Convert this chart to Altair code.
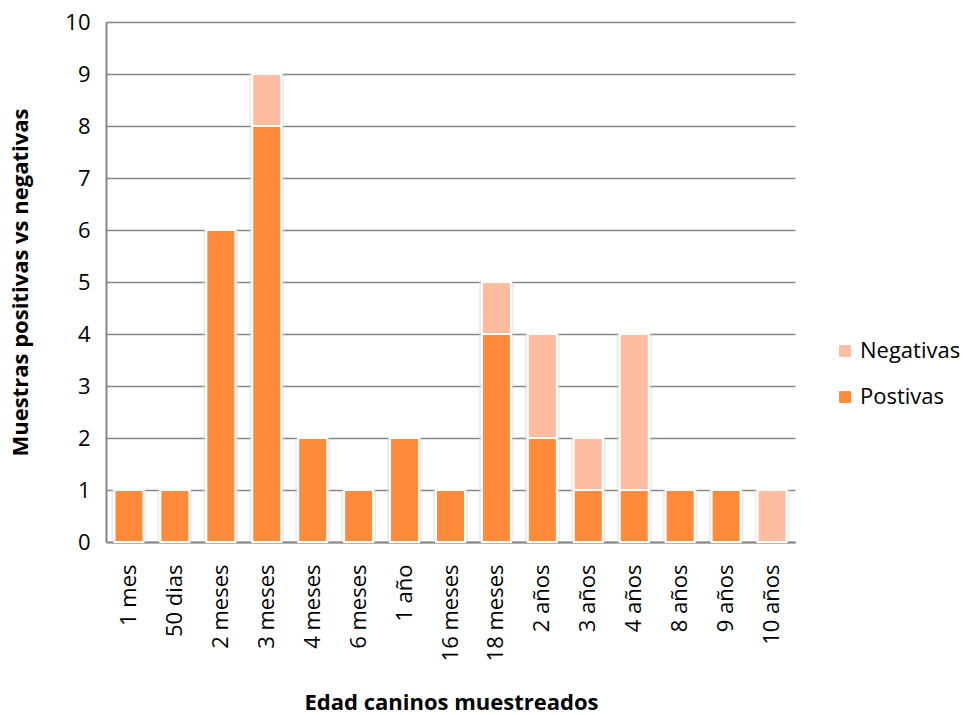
import altair as alt
import pandas as pd

# Ages of the sampled dogs and counts of positive / negative samples
edades = ["1 mes", "50 dias", "2 meses", "3 meses", "4 meses", "6 meses", "1 año",
          "16 meses", "18 meses", "2 años", "3 años", "4 años", "8 años", "9 años", "10 años"]
postivas = [1, 1, 6, 8, 2, 1, 2, 1, 4, 2, 1, 1, 1, 1, 0]
negativas = [0, 0, 0, 1, 0, 0, 0, 0, 1, 2, 1, 3, 0, 0, 1]

series = ["Negativas", "Postivas"]
colores = ["#FDBBA0", "#FF8A3A"]

rows = []
for e, p, n in zip(edades, postivas, negativas):
    rows.append({"edad": e, "serie": "Postivas", "valor": p, "orden": 0})
    rows.append({"edad": e, "serie": "Negativas", "valor": n, "orden": 1})
df = pd.DataFrame(rows)

FONT = "Open Sans"

x_enc = alt.X(
    "edad:N", sort=edades,
    scale=alt.Scale(paddingInner=0, paddingOuter=0),
    axis=alt.Axis(
        title="Edad caninos muestreados", labelAngle=270, labelAlign="right",
        labelBaseline="middle", labelPadding=22, labelFontSize=22, labelFont=FONT,
        labelColor="#000000", ticks=False, domainColor="#868686", domainWidth=2,
        titleFont=FONT, titleFontSize=22, titleFontWeight="bold", titleColor="#000000",
        titleX=345, titleY=160, titleAlign="center", titleBaseline="middle",
    ),
)
y_enc = alt.Y(
    "valor:Q", stack="zero",
    scale=alt.Scale(domain=[0, 10], nice=False),
    axis=alt.Axis(
        title="Muestras positivas vs negativas", values=list(range(0, 11)),
        tickCount=11, labelFontSize=22, labelFont=FONT, labelColor="#000000",
        labelPadding=16, ticks=False, domainColor="#868686", domainWidth=2,
        gridColor="#868686", gridWidth=1.5,
        titleFont=FONT, titleFontSize=22, titleFontWeight="bold", titleColor="#000000",
        titleAngle=270, titleX=-86, titleY=260, titleAlign="center", titleBaseline="middle",
    ),
)

shadow = alt.Chart(df).mark_bar(size=35, color="#d9d9d9", opacity=0.45).encode(
    x=x_enc, y=y_enc, order=alt.Order("orden:Q"),
)

bars = alt.Chart(df).mark_bar(size=29, stroke="#ffffff", strokeWidth=2).encode(
    x=x_enc, y=y_enc,
    color=alt.Color(
        "serie:N", scale=alt.Scale(domain=series, range=colores),
        legend=alt.Legend(
            title=None, orient="none", legendX=728, legendY=318,
            symbolType="square", symbolSize=140, symbolStrokeWidth=0,
            labelFont=FONT, labelFontSize=22, labelColor="#000000",
            rowPadding=24, labelOffset=4, labelLimit=200,
        ),
    ),
    order=alt.Order("orden:Q"),
)

chart = (shadow + bars).properties(
    width=689, height=520,
    autosize=alt.AutoSizeParams(type="none"),
    padding={"left": 106, "top": 22, "right": 168, "bottom": 173},
    background="#ffffff",
).configure_view(stroke=None)

chart.save("out.html", embed_options={"renderer": "svg", "actions": False})
